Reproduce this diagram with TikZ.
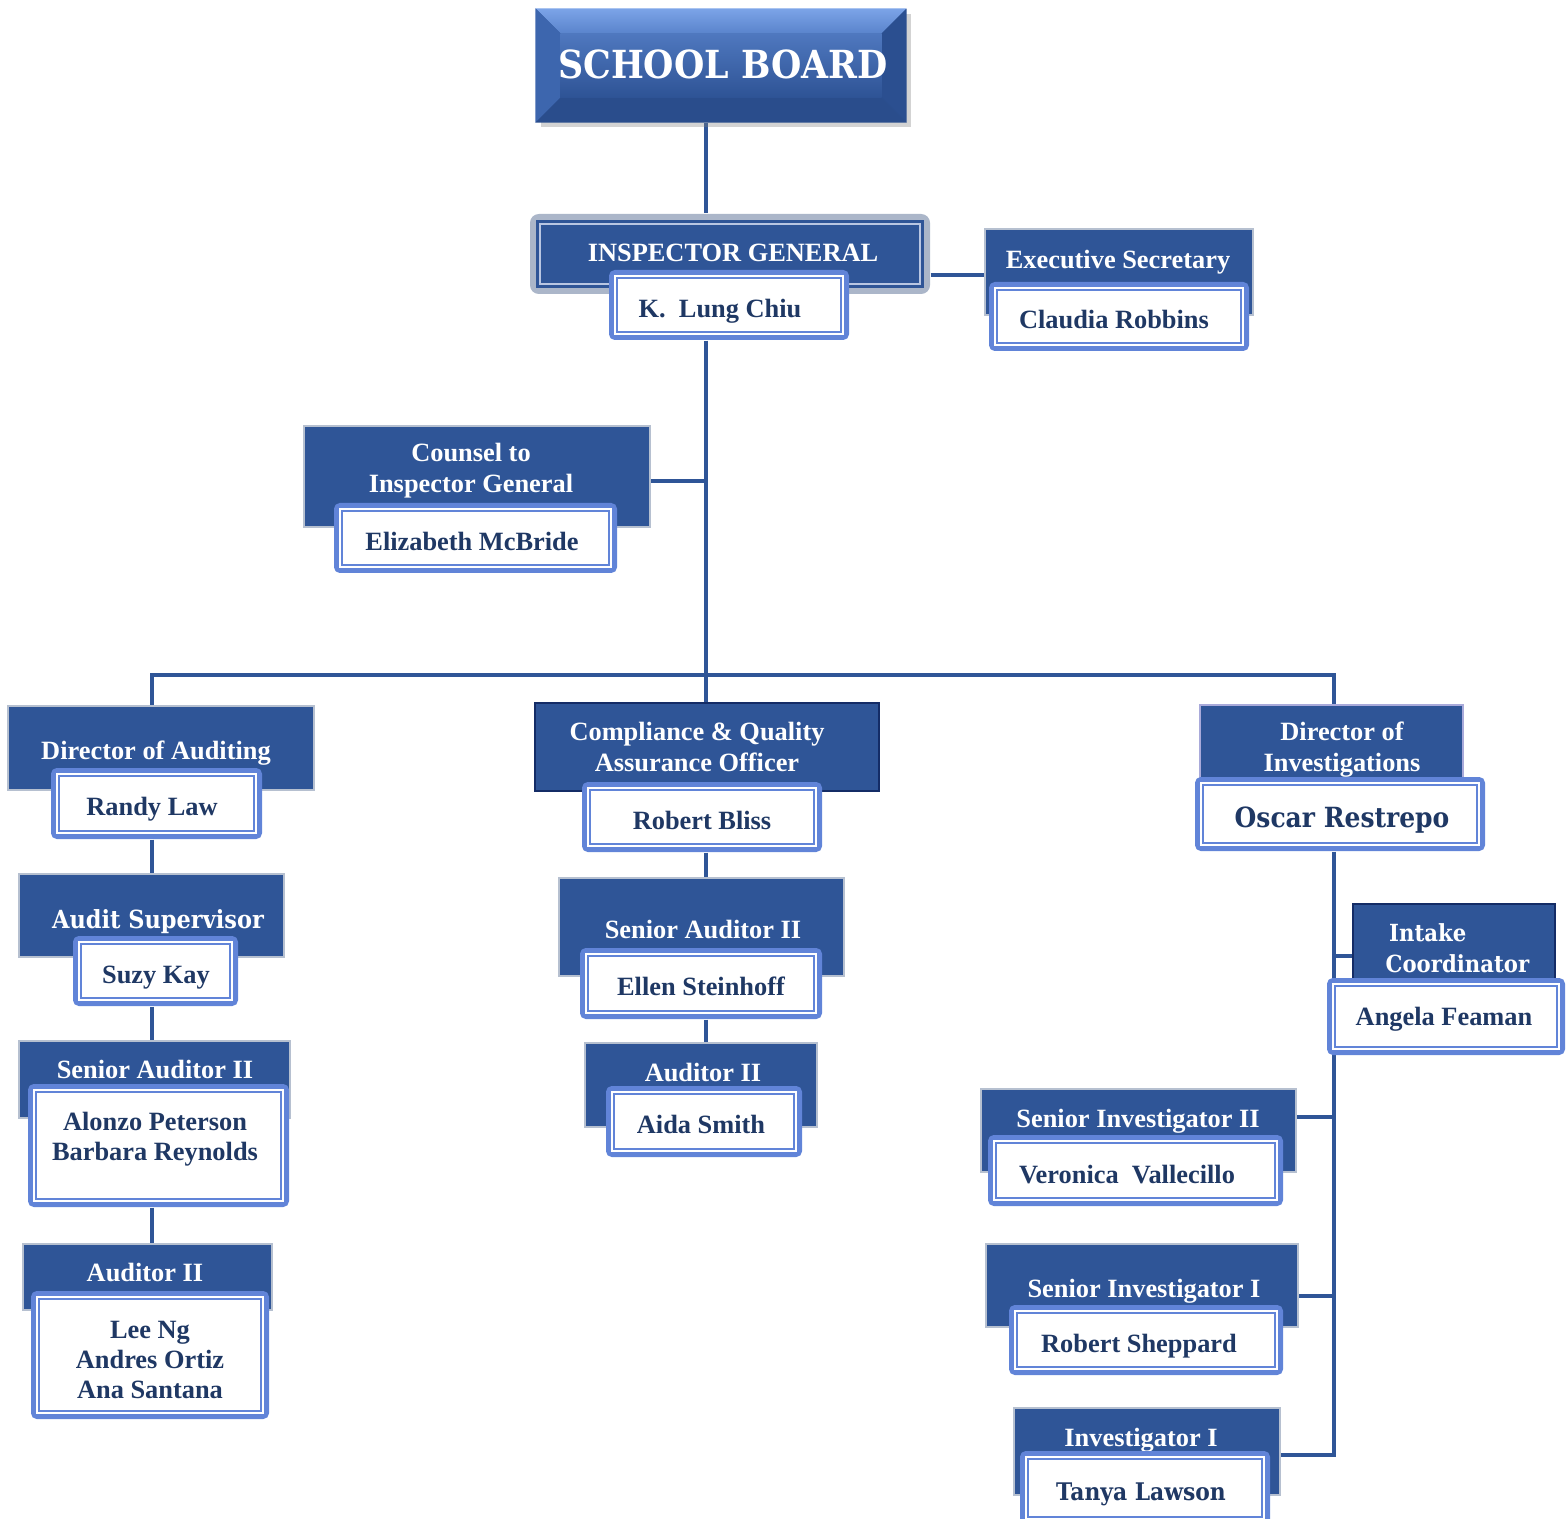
\documentclass[tikz,border=0pt]{standalone}
\usepackage{fontspec}
\setmainfont{Liberation Serif}
\newfontfamily\cent[FakeStretch=0.9]{DejaVu Serif}
\usetikzlibrary{fit,shadows}
\pgfdeclarelayer{bg}
\pgfsetlayers{bg,main}
\definecolor{boxblue}{HTML}{2F5597}
\definecolor{linkblue}{HTML}{2F5597}
\definecolor{namefill}{HTML}{6184D8}
\definecolor{nametext}{HTML}{1F3864}
\definecolor{graybrd}{HTML}{B6C0D0}
\definecolor{navybrd}{HTML}{142C66}
\definecolor{lavbrd}{HTML}{A9AADA}
\definecolor{iggray}{HTML}{ABB6C9}
\definecolor{igline}{HTML}{B9C6E2}
\definecolor{sbbase}{HTML}{2E5395}
\definecolor{sbtop}{HTML}{7CA4E8}
\definecolor{sbtopb}{HTML}{5A84CC}
\definecolor{sbleft}{HTML}{3D66AE}
\definecolor{sbright}{HTML}{2B4F90}
\definecolor{sbbot}{HTML}{2A4D8C}
\definecolor{sbin}{HTML}{4F78BF}
\tikzset{
  conn/.style={draw=linkblue, line width=1.2pt, line join=miter},
  titlebox/.style={fill=boxblue, draw=graybrd, line width=0.55pt, inner sep=0pt},
  namebox/.style={fill=namefill, rounded corners=1.6pt, inner sep=0pt},
  ttl/.style={text=white, font=\bfseries\fontsize{7.5}{8.8}\selectfont, inner sep=0pt, align=center},
  nm/.style={text=nametext, font=\bfseries\fontsize{7.5}{8.6}\selectfont, inner sep=0pt, align=center},
  one/.style={text height=0.66em, text depth=0pt},
}
\newcommand{\ttlbx}[6][]{\node[titlebox,#1, fit={(#3,#4) (#5,#6)}] (#2) {};}
\newcommand{\nmbx}[5]{%
  \node[namebox, fit={(#2,#3) (#4,#5)}] (#1) {};
  \fill[white] ([shift={(6,6)}]#1.north west) rectangle ([shift={(-6,-6)}]#1.south east);
  \draw[namefill, line width=0.45pt] ([shift={(8.5,8.5)}]#1.north west) rectangle ([shift={(-8.5,-8.5)}]#1.south east);}
\begin{document}
\begin{tikzpicture}[x=0.01cm,y=-0.01cm]
\useasboundingbox (0,0) rectangle (1567,1519);
\coordinate (jt) at (706,675);
\coordinate (jl) at (152,675);
\coordinate (jr) at (1334,675);
\coordinate (jb) at (1334,1455);

% ---------- SCHOOL BOARD ----------
\node[fill=sbbase, inner sep=0pt, fit={(536,9) (906,122)},
      drop shadow={shadow xshift=1.5pt, shadow yshift=-1.5pt, opacity=0.35}] (sb) {};
\shade[top color=sbtop, bottom color=sbtopb] (sb.north west) -- (sb.north east) -- ([shift={(-25,25)}]sb.north east) -- ([shift={(25,25)}]sb.north west) -- cycle;
\fill[sbleft] (sb.north west) -- ([shift={(25,25)}]sb.north west) -- ([shift={(25,-25)}]sb.south west) -- (sb.south west) -- cycle;
\fill[sbright] (sb.north east) -- ([shift={(-25,25)}]sb.north east) -- ([shift={(-25,-25)}]sb.south east) -- (sb.south east) -- cycle;
\fill[sbbot] (sb.south west) -- ([shift={(25,-25)}]sb.south west) -- ([shift={(-25,-25)}]sb.south east) -- (sb.south east) -- cycle;
\shade[top color=sbin, bottom color=sbbase] ([shift={(25,25)}]sb.north west) rectangle ([shift={(-25,-25)}]sb.south east);
\node[text=white, font=\cent\bfseries\fontsize{11}{13}\selectfont, inner sep=0pt, text height=0.73em, text depth=0pt] (tsb) at (723,66) {SCHOOL BOARD};

% ---------- INSPECTOR GENERAL ----------
\node[fill=iggray, inner sep=0pt, rounded corners=2.5pt, fit={(530,214) (930,294)}] (ig) {};
\fill[boxblue] ([shift={(7,7)}]ig.north west) rectangle ([shift={(-7,-7)}]ig.south east);
\draw[igline, line width=0.5pt] ([shift={(11,11)}]ig.north west) rectangle ([shift={(-11,-11)}]ig.south east);
\node[ttl, one] (tig) at (733,250) {INSPECTOR GENERAL};
\nmbx{ign}{609}{270}{849}{340}
\node[nm, one] (nig) at (720,306) {K.\ \ Lung Chiu};

% ---------- Executive Secretary ----------
\ttlbx{es}{985}{229}{1253}{315}
\node[ttl, one] (tes) at (1118,257) {Executive Secretary};
\nmbx{esn}{989}{282}{1249}{351}
\node[nm, one] (nes) at (1114,317) {Claudia Robbins};

% ---------- Counsel ----------
\ttlbx{cs}{304}{426}{650}{527}
\node[ttl] (tcs) at (471,471) {Counsel to\\Inspector General};
\nmbx{csn}{334}{503}{617}{573}
\node[nm, one] (ncs) at (472,539) {Elizabeth McBride};

% ---------- Director of Auditing ----------
\ttlbx{da}{8}{706}{314}{790}
\node[ttl, one] (tda) at (156,748) {Director of Auditing};
\nmbx{dan}{51}{768}{262}{839}
\node[nm, one] (nda) at (152,804) {Randy Law};

% ---------- Audit Supervisor ----------
\ttlbx{as}{19}{874}{284}{957}
\node[text=white, font=\cent\bfseries\fontsize{7.1}{9}\selectfont, inner sep=0pt, text height=0.73em, text depth=0pt] (tas) at (158,916) {Audit Supervisor};
\nmbx{asn}{73}{936}{238}{1006}
\node[nm, one] (nas) at (156,972) {Suzy Kay};

% ---------- Senior Auditor II (left) ----------
\ttlbx{sa}{19}{1041}{290}{1118}
\node[ttl, one] (tsa) at (155,1067) {Senior Auditor II};
\nmbx{san}{28}{1084}{289}{1207}
\node[nm] (nsa) at (155,1139) {Alonzo Peterson\\Barbara Reynolds};

% ---------- Auditor II (left) ----------
\ttlbx{a2}{23}{1244}{272}{1310}
\node[ttl, one] (ta2) at (145,1270) {Auditor II};
\nmbx{a2n}{31}{1291}{269}{1419}
\node[nm] (na2) at (150,1360) {Lee Ng\\Andres Ortiz\\Ana Santana};

% ---------- Compliance ----------
\ttlbx[draw=navybrd, line width=0.8pt]{cq}{535}{703}{879}{791}
\node[ttl] (tcq) at (697,747) {Compliance \& Quality\\Assurance Officer};
\nmbx{cqn}{582}{782}{822}{852}
\node[nm, one] (ncq) at (702,818) {Robert Bliss};

% ---------- Senior Auditor II (middle) ----------
\ttlbx{sm}{559}{878}{844}{976}
\node[ttl, one] (tsm) at (703,927) {Senior Auditor II};
\nmbx{smn}{580}{948}{822}{1019}
\node[nm, one] (nsm) at (701,984) {Ellen Steinhoff};

% ---------- Auditor II (middle) ----------
\ttlbx{am}{585}{1043}{817}{1127}
\node[ttl, one] (tam) at (703,1070) {Auditor II};
\nmbx{amn}{606}{1086}{802}{1157}
\node[nm, one] (nam) at (701,1122) {Aida Smith};

% ---------- Director of Investigations ----------
\ttlbx[draw=lavbrd]{di}{1200}{705}{1463}{790}
\node[ttl] (tdi) at (1342,750) {Director of\\Investigations};
\nmbx{din}{1195}{777}{1485}{851}
\node[text=nametext, font=\cent\bfseries\fontsize{7.9}{9}\selectfont, inner sep=0pt, text height=0.73em, text depth=0pt] (ndi) at (1342,815) {Oscar Restrepo};

% ---------- Intake Coordinator ----------
\ttlbx[draw=navybrd, line width=0.5pt]{ic}{1353}{904}{1555}{990}
\node[text=white, font=\cent\bfseries\fontsize{6.7}{8.8}\selectfont, inner sep=0pt, align=left, anchor=west] (tic) at (1385,948) {\hspace*{1pt}Intake\\Coordinator};
\nmbx{icn}{1327}{978}{1565}{1055}
\node[nm, one] (nic) at (1444,1014) {Angela Feaman};

% ---------- Senior Investigator II ----------
\ttlbx{si2}{981}{1089}{1296}{1172}
\node[ttl, one] (tsi2) at (1138,1116) {Senior Investigator II};
\nmbx{si2n}{988}{1135}{1283}{1206}
\node[nm, one] (nsi2) at (1127,1172) {Veronica\ \ Vallecillo};

% ---------- Senior Investigator I ----------
\ttlbx{si1}{986}{1244}{1298}{1327}
\node[ttl, one] (tsi1) at (1144,1286) {Senior Investigator I};
\nmbx{si1n}{1009}{1305}{1283}{1375}
\node[nm, one] (nsi1) at (1139,1341) {Robert Sheppard};

% ---------- Investigator I ----------
\ttlbx{i1}{1014}{1408}{1280}{1495}
\node[ttl, one] (ti1) at (1141,1435) {Investigator I};
\nmbx{i1n}{1020}{1451}{1270}{1525}
\node[text=nametext, font=\cent\bfseries\fontsize{6.9}{9}\selectfont, inner sep=0pt, text height=0.73em, text depth=0pt] (ni1) at (1141,1488) {Tanya Lawson};

% ---------- connectors ----------
\begin{pgfonlayer}{bg}
\draw[conn] (sb.south -| jt) -- (ig.north -| jt);
\draw[conn] (ign.south -| jt) -- (cq.north -| jt);
\draw[conn] (ig.east |- 0,275) -- (es.west |- 0,275);
\draw[conn] (cs.east |- 0,481) -- (jt |- 0,481);
\draw[conn] (da.north -| jl) -- (jl) -- (jr) -- (di.north -| jr);
\draw[conn] (dan.south -| jl) -- (as.north -| jl);
\draw[conn] (asn.south -| jl) -- (sa.north -| jl);
\draw[conn] (san.south -| jl) -- (a2.north -| jl);
\draw[conn] (cqn.south -| jt) -- (sm.north -| jt);
\draw[conn] (smn.south -| jt) -- (am.north -| jt);
\draw[conn] (din.south -| jr) -- (jb) -- (i1.east |- jb);
\draw[conn] (jr |- 0,956) -- (ic.west |- 0,956);
\draw[conn] (si2.east |- 0,1117) -- (jr |- 0,1117);
\draw[conn] (si1.east |- 0,1296) -- (jr |- 0,1296);
\end{pgfonlayer}
\end{tikzpicture}
\end{document}
